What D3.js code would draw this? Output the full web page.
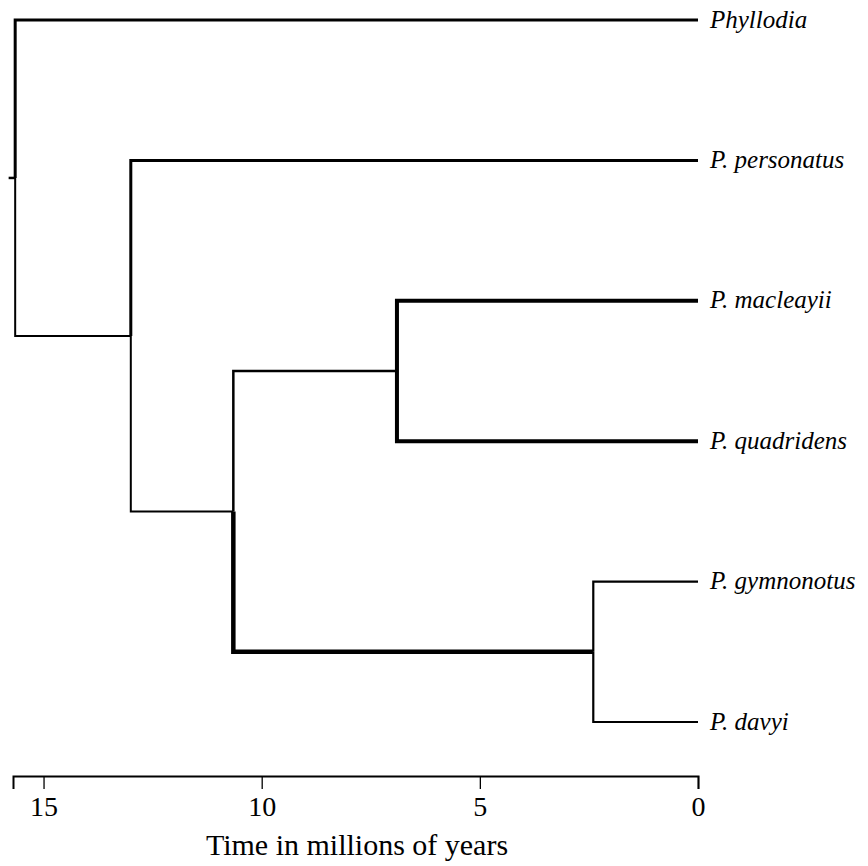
<!DOCTYPE html>
<html>
<head>
<meta charset="utf-8">
<script src="https://cdn.jsdelivr.net/npm/d3@7"></script>
<style>
  body { margin: 0; background: #fff; }
  svg { display: block; }
</style>
</head>
<body>
<svg id="chart" width="868" height="866"></svg>
<script>
// ---- data ----
const leafNames = ["Phyllodia", "P. personatus", "P. macleayii", "P. quadridens", "P. gymnonotus", "P. davyi"];
// node ages (millions of years before present)
const nodeNames  = ["root", "A", "B", "C", "D"];
const nodeAges   = [15.65, 13.0, 10.65, 6.9, 2.4];
const rootStubAge = 15.8;
// tree topology: [parent, child]
const edgeParents  = ["root", "root", "A", "A", "B", "B", "C", "C", "D", "D"];
const edgeChildren = ["Phyllodia", "A", "P. personatus", "B", "C", "D", "P. macleayii", "P. quadridens", "P. gymnonotus", "P. davyi"];
const edgeWeights  = [3, 2, 3, 2, 2.5, 4.5, 4, 4, 2.2, 2.2];
const tickValues = [15, 10, 5, 0];
const axisTitle = "Time in millions of years";

const FONT = '"Liberation Serif"';

// ---- build hierarchy ----
const rows = [{id: "root", parent: null}];
edgeChildren.forEach((c, i) => rows.push({id: c, parent: edgeParents[i], w: edgeWeights[i]}));
const root = d3.stratify().id(d => d.id).parentId(d => d.parent)(rows);
const ageOf = new Map(nodeNames.map((n, i) => [n, nodeAges[i]]));

const svg = d3.select("#chart");
const x = d3.scaleLinear().domain([15.7, 0]).range([13, 698]);
const yLeaf = d3.scalePoint().domain(leafNames).range([20, 722]);

root.eachAfter(n => {
  n.px = x(n.children ? ageOf.get(n.id) : 0);
  n.py = n.children ? d3.mean(n.children, c => c.py) : yLeaf(n.id);
});

const g = svg.append("g");
// root stub
g.append("line")
  .attr("x1", x(rootStubAge)).attr("x2", root.px)
  .attr("y1", root.py).attr("y2", root.py)
  .attr("stroke", "#000").attr("stroke-width", 2.5);

g.selectAll("path.edge")
  .data(root.links())
  .join("path")
  .attr("class", "edge")
  .attr("fill", "none")
  .attr("stroke", "#000")
  .attr("stroke-linejoin", "miter")
  .attr("stroke-width", d => d.target.data.w)
  .attr("d", d => `M${d.source.px},${d.source.py}V${d.target.py}H${d.target.px}`);

g.selectAll("text.leaf")
  .data(root.leaves())
  .join("text")
  .attr("class", "leaf")
  .attr("x", d => d.px + 12)
  .attr("y", d => d.py)
  .attr("dy", "0.3em")
  .style("font-family", FONT)
  .style("font-style", "italic")
  .style("font-size", "25px")
  .text(d => d.id);

// ---- axis ----
const axisG = svg.append("g")
  .attr("transform", "translate(0,776)")
  .call(d3.axisBottom(x).tickValues(tickValues).tickSizeOuter(0).tickSize(13).tickPadding(7).tickFormat(d3.format("d")));
axisG.select(".domain").attr("stroke-width", 2);
axisG.selectAll(".tick line").attr("stroke-width", 1.3);
axisG.selectAll(".tick text")
  .style("font-family", FONT)
  .style("font-size", "28px")
  .attr("fill", "#000");

svg.append("text")
  .attr("x", 357)
  .attr("y", 855)
  .attr("text-anchor", "middle")
  .style("font-family", FONT)
  .style("font-size", "30px")
  .text(axisTitle);
</script>
</body>
</html>
